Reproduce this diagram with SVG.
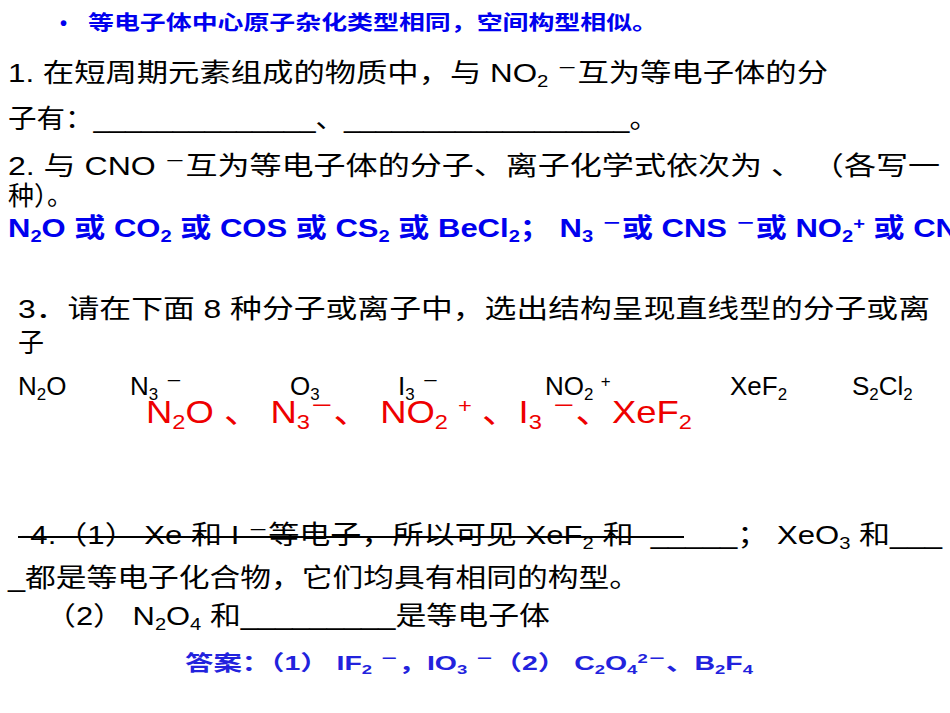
<svg xmlns="http://www.w3.org/2000/svg" width="950" height="713" viewBox="0 0 950 713">
<style>
text{font-family:"Liberation Sans","Noto Sans CJK SC",sans-serif;}
.m{font-size:26px;fill:#000}
.b{font-size:26px;fill:#0000ee;font-weight:bold}
.r{font-size:32px;fill:#ee0000}
.t{font-size:20px;fill:#0000ee;font-weight:bold}
.a{font-size:21px;fill:#2222dd;font-weight:bold}
.s{font-size:65%;baseline-shift:-30%}
.p{font-size:65%;baseline-shift:50%}
</style>
<rect width="950" height="713" fill="#fff"/>
<g id="title"><text class="t" x="60" y="30">•</text><text class="t" x="88" y="30" textLength="570" lengthAdjust="spacingAndGlyphs">等电子体中心原子杂化类型相同，空间构型相似。</text></g>
<g id="q1">
<text class="m" x="8" y="82" textLength="820" lengthAdjust="spacingAndGlyphs">1. 在短周期元素组成的物质中，与 NO<tspan class="s">2</tspan> <tspan class="p">－</tspan>互为等电子体的分</text>
<text class="m" x="8" y="128" textLength="650" lengthAdjust="spacingAndGlyphs">子有：______________、__________________。</text>
</g>
<g id="q2">
<text class="m" x="8" y="175" textLength="932" lengthAdjust="spacingAndGlyphs">2. 与 CNO <tspan class="p">－</tspan>互为等电子体的分子、离子化学式依次为 、 （各写一</text>
<text class="m" x="8" y="205">种）。</text>
<text class="b" x="8" y="237" textLength="950" lengthAdjust="spacingAndGlyphs">N<tspan class="s">2</tspan>O 或 CO<tspan class="s">2</tspan> 或 COS 或 CS<tspan class="s">2</tspan> 或 BeCl<tspan class="s">2</tspan>； N<tspan class="s">3</tspan> <tspan class="p">－</tspan>或 CNS <tspan class="p">－</tspan>或 NO<tspan class="s">2</tspan><tspan class="p">+</tspan> 或 CN</text>
</g>
<g id="q3">
<text class="m" x="18" y="318" textLength="912" lengthAdjust="spacingAndGlyphs">3．请在下面 8 种分子或离子中，选出结构呈现直线型的分子或离</text>
<text class="m" x="18" y="352">子</text>
<text class="m" x="18" y="395">N<tspan class="s">2</tspan>O</text>
<text class="m" x="130" y="395">N<tspan class="s">3</tspan> <tspan class="p">－</tspan></text>
<text class="m" x="290" y="395">O<tspan class="s">3</tspan></text>
<text class="m" x="398" y="395">I<tspan class="s">3</tspan> <tspan class="p">－</tspan></text>
<text class="m" x="545" y="395">NO<tspan class="s">2</tspan> <tspan class="p">+</tspan></text>
<text class="m" x="730" y="395">XeF<tspan class="s">2</tspan></text>
<text class="m" x="852" y="395">S<tspan class="s">2</tspan>Cl<tspan class="s">2</tspan></text>
<text class="r" x="146" y="423" textLength="546" lengthAdjust="spacingAndGlyphs">N<tspan class="s">2</tspan>O 、 N<tspan class="s">3</tspan><tspan class="p">－</tspan>、 NO<tspan class="s">2</tspan> <tspan class="p">+</tspan> 、I<tspan class="s">3</tspan> <tspan class="p">－</tspan>、XeF<tspan class="s">2</tspan></text>
</g>
<g id="q4">
<text class="m" x="20" y="544" textLength="922" lengthAdjust="spacingAndGlyphs">-4.（1） Xe 和 I <tspan class="p">－</tspan>等电子，所以可见 XeF<tspan class="s">2</tspan> 和<tspan fill="#fff">_</tspan>_____； XeO<tspan class="s">3</tspan> 和___</text>
<line x1="18" y1="537" x2="684" y2="537" stroke="#000" stroke-width="2"/>
<text class="m" x="8" y="587" textLength="632" lengthAdjust="spacingAndGlyphs">_都是等电子化合物，它们均具有相同的构型。</text>
<text class="m" x="45" y="625" textLength="505" lengthAdjust="spacingAndGlyphs">（2） N<tspan class="s">2</tspan>O<tspan class="s">4</tspan> 和_________是等电子体</text>
<text class="a" x="185" y="670" textLength="568" lengthAdjust="spacingAndGlyphs">答案：（1） IF<tspan class="s">2</tspan> <tspan class="p">－</tspan>，IO<tspan class="s">3</tspan> <tspan class="p">－</tspan>（2） C<tspan class="s">2</tspan>O<tspan class="s">4</tspan><tspan class="p">2－</tspan>、B<tspan class="s">2</tspan>F<tspan class="s">4</tspan></text>
</g>
</svg>
